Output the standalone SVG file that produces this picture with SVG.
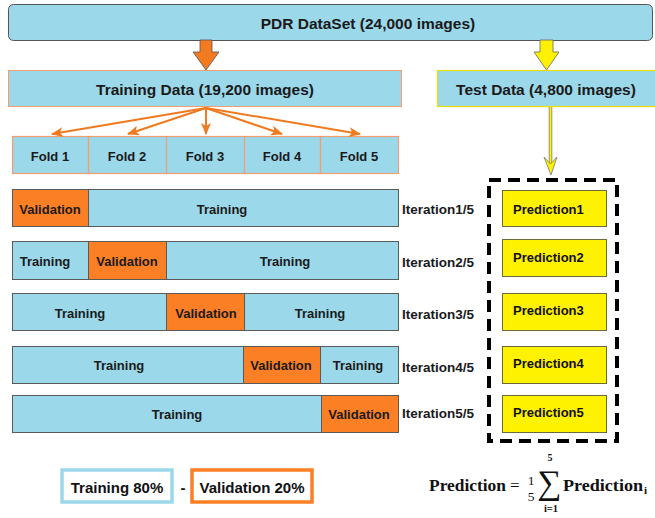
<svg xmlns="http://www.w3.org/2000/svg" width="655" height="518" viewBox="0 0 655 518">
<style>
  .hdr { font-family: "Liberation Sans", Arial, sans-serif; font-weight: bold; font-size: 15.5px; fill: #1a1a1a; text-anchor: middle; dominant-baseline: central; }
  .lbl { font-family: "Liberation Sans", Arial, sans-serif; font-weight: bold; font-size: 13px; fill: #1a1a1a; text-anchor: middle; dominant-baseline: central; }
  .it { font-family: "Liberation Sans", Arial, sans-serif; font-weight: bold; font-size: 13.5px; fill: #1a1a1a; dominant-baseline: central; }
  .pr { font-family: "Liberation Sans", Arial, sans-serif; font-weight: bold; font-size: 13px; fill: #111; dominant-baseline: central; }
  .leg { font-family: "Liberation Sans", Arial, sans-serif; font-weight: bold; font-size: 15px; fill: #111; text-anchor: middle; dominant-baseline: central; }
  .bar { fill: #9bd8ea; stroke: #5a5a5a; stroke-width: 1; }
  .val { fill: #fb7f25; stroke: #5a5a5a; stroke-width: 1; }
  .fold { fill: #9bd8ea; stroke: #f0a070; stroke-width: 1.2; }
  .predbox { fill: #fff200; stroke: #6a6a3a; stroke-width: 1; }
  .fa { stroke: #f07a20; stroke-width: 2; fill: none; marker-end: url(#oh); }
  .math { font-family: "Liberation Serif", "Times New Roman", serif; fill: #111; }
</style>
<defs>
  <marker id="oh" viewBox="0 0 12 10" refX="11" refY="5" markerWidth="12" markerHeight="10" markerUnits="userSpaceOnUse" orient="auto">
    <path d="M0,0 L12,5 L0,10 L3,5 z" fill="#f07a20"/>
  </marker>
</defs>

<g id="dataset">
  <rect x="8.5" y="4.5" width="644" height="36" rx="5" fill="#9bd8ea" stroke="#555" stroke-width="1"/>
  <text class="hdr" x="368" y="23">PDR DataSet (24,000 images)</text>
</g>

<g id="training-data">
  <rect x="8.5" y="70.5" width="393" height="36" fill="#9bd8ea" stroke="#f0a070" stroke-width="1"/>
  <text class="hdr" x="205" y="89">Training Data (19,200 images)</text>
</g>

<g id="test-data">
  <rect x="437.5" y="70.5" width="220" height="36" fill="#9bd8ea" stroke="#e8e000" stroke-width="1.2"/>
  <text class="hdr" x="546" y="89">Test Data (4,800 images)</text>
</g>

<g id="folds">
  <rect class="fold" x="12.5" y="136.5" width="76" height="37"/>
  <rect class="fold" x="88.5" y="136.5" width="78" height="37"/>
  <rect class="fold" x="166.5" y="136.5" width="78" height="37"/>
  <rect class="fold" x="244.5" y="136.5" width="76" height="37"/>
  <rect class="fold" x="320.5" y="136.5" width="78" height="37"/>
  <text class="lbl" x="50" y="156">Fold 1</text>
  <text class="lbl" x="127" y="156">Fold 2</text>
  <text class="lbl" x="205" y="156">Fold 3</text>
  <text class="lbl" x="282" y="156">Fold 4</text>
  <text class="lbl" x="359" y="156">Fold 5</text>
</g>

<g id="iteration1">
  <rect class="val" x="12.5" y="189.5" width="76" height="37"/>
  <rect class="bar" x="88.5" y="189.5" width="310" height="37"/>
  <text class="lbl" x="50" y="209">Validation</text>
  <text class="lbl" x="222" y="209">Training</text>
  <text class="it" x="402" y="209">Iteration1/5</text>
</g>

<g id="iteration2">
  <rect class="bar" x="12.5" y="241.5" width="76" height="38"/>
  <rect class="val" x="88.5" y="241.5" width="78" height="38"/>
  <rect class="bar" x="166.5" y="241.5" width="232" height="38"/>
  <text class="lbl" x="45" y="261">Training</text>
  <text class="lbl" x="127" y="261">Validation</text>
  <text class="lbl" x="285" y="261">Training</text>
  <text class="it" x="402" y="262">Iteration2/5</text>
</g>

<g id="iteration3">
  <rect class="bar" x="12.5" y="293.5" width="154" height="37"/>
  <rect class="val" x="166.5" y="293.5" width="78" height="37"/>
  <rect class="bar" x="244.5" y="293.5" width="154" height="37"/>
  <text class="lbl" x="80" y="313">Training</text>
  <text class="lbl" x="206" y="313">Validation</text>
  <text class="lbl" x="320" y="313">Training</text>
  <text class="it" x="402" y="314">Iteration3/5</text>
</g>

<g id="iteration4">
  <rect class="bar" x="12.5" y="346.5" width="231" height="37"/>
  <rect class="val" x="243.5" y="346.5" width="77" height="37"/>
  <rect class="bar" x="320.5" y="346.5" width="78" height="37"/>
  <text class="lbl" x="119" y="365">Training</text>
  <text class="lbl" x="281" y="365">Validation</text>
  <text class="lbl" x="358" y="365">Training</text>
  <text class="it" x="402" y="367">Iteration4/5</text>
</g>

<g id="iteration5">
  <rect class="bar" x="12.5" y="395.5" width="309" height="37"/>
  <rect class="val" x="321.5" y="395.5" width="77" height="37"/>
  <text class="lbl" x="177" y="414">Training</text>
  <text class="lbl" x="359" y="414">Validation</text>
  <text class="it" x="402" y="413">Iteration5/5</text>
</g>

<g id="predictions">
  <rect x="489" y="180" width="128" height="261" fill="none" stroke="#000" stroke-width="4" stroke-dasharray="12 7"/>
  <g id="prediction1">
    <rect class="predbox" x="502.5" y="190.5" width="104" height="36"/>
    <text class="pr" x="513" y="209">Prediction1</text>
  </g>
  <g id="prediction2">
    <rect class="predbox" x="502.5" y="239.5" width="104" height="37"/>
    <text class="pr" x="513" y="257">Prediction2</text>
  </g>
  <g id="prediction3">
    <rect class="predbox" x="502.5" y="293.5" width="104" height="37"/>
    <text class="pr" x="513" y="310">Prediction3</text>
  </g>
  <g id="prediction4">
    <rect class="predbox" x="502.5" y="346.5" width="104" height="37"/>
    <text class="pr" x="513" y="363">Prediction4</text>
  </g>
  <g id="prediction5">
    <rect class="predbox" x="502.5" y="395.5" width="104" height="37"/>
    <text class="pr" x="513" y="412">Prediction5</text>
  </g>
</g>

<g id="connectors">
  <path d="M200,40 L212,40 L212,52 L219,52 L206,70 L193,52 L200,52 Z" fill="#f47a20" stroke="#555" stroke-width="0.8"/>
  <path d="M540,40 L553,40 L553,52 L559,52 L546.5,70 L534,52 L540,52 Z" fill="#fff200" stroke="#666" stroke-width="0.8"/>
  <line class="fa" x1="206" y1="108" x2="52" y2="134"/>
  <line class="fa" x1="206" y1="108" x2="128" y2="134"/>
  <line class="fa" x1="206" y1="108" x2="206" y2="134"/>
  <line class="fa" x1="206" y1="108" x2="282" y2="134"/>
  <line class="fa" x1="206" y1="108" x2="360" y2="134"/>
  <line x1="550.5" y1="107" x2="550.5" y2="166" stroke="#777" stroke-width="3.5"/>
  <line x1="550.5" y1="107" x2="550.5" y2="166" stroke="#fff200" stroke-width="2"/>
  <path d="M544,157 L550.5,164 L557,157 L551,175 Z" fill="#fff200" stroke="#777" stroke-width="0.8"/>
</g>

<g id="legend">
  <rect x="62" y="470" width="110" height="32" fill="#fff" stroke="#9bd8ea" stroke-width="3.5"/>
  <text class="leg" x="117" y="487">Training 80%</text>
  <text class="leg" x="183" y="487">-</text>
  <rect x="192" y="470" width="120" height="32" fill="#fff" stroke="#fb7f25" stroke-width="3.5"/>
  <text class="leg" x="252" y="487">Validation 20%</text>
</g>

<g id="formula" class="math">
  <text x="429" y="491" font-size="17" font-weight="bold" textLength="77" lengthAdjust="spacingAndGlyphs">Prediction</text>
  <text x="510" y="491" font-size="17">=</text>
  <text x="531" y="485" font-size="13.5" text-anchor="middle">1</text>
  <text x="531" y="500.5" font-size="13.5" text-anchor="middle">5</text>
  <text x="549" y="494" font-size="34" text-anchor="middle">∑</text>
  <text x="550" y="461" font-size="10" font-weight="bold" text-anchor="middle">5</text>
  <text x="551" y="512" font-size="10.5" font-weight="bold" text-anchor="middle">i=1</text>
  <text x="563" y="491" font-size="17" font-weight="bold" textLength="80" lengthAdjust="spacingAndGlyphs">Prediction</text>
  <text x="644" y="494" font-size="11" font-weight="bold">i</text>
</g>
</svg>
